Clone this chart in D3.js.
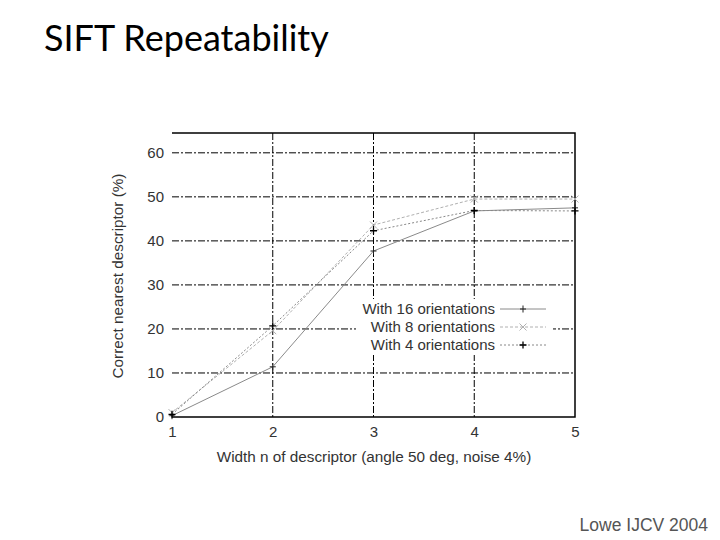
<!DOCTYPE html>
<html>
<head>
<meta charset="utf-8">
<script src="https://cdn.jsdelivr.net/npm/d3@7"></script>
<style>
  body { margin: 0; background: #fff; }
  svg { display: block; }
  .lbl { font-family: 'Liberation Sans', Arial, sans-serif; fill: #333; }
</style>
</head>
<body>
<div class="graph"></div>
<script>
const width = 720;
const height = 540;
const margin = {top: 133, right: 145, bottom: 123, left: 172};
const innerWidth = width - margin.left - margin.right;
const innerHeight = height - margin.top - margin.bottom;

const widths = [1, 2, 3, 4, 5];
const xTicks = [1, 2, 3, 4, 5];
const yTicks = [0, 10, 20, 30, 40, 50, 60];
const seriesNames = ['With 16 orientations', 'With 8 orientations', 'With 4 orientations'];
const with16 = [0.3, 11.4, 37.7, 46.8, 47.5];
const with8 = [1.0, 19.6, 43.6, 49.5, 49.5];
const with4 = [0.6, 20.7, 42.3, 46.9, 46.8];

const styles = [
  {color: '#8a8a8a', dash: null, marker: 'tick'},
  {color: '#b0b0b0', dash: '3,2', marker: 'x'},
  {color: '#888', dash: '2,2', marker: 'plus'}
];
const allSeries = [with16, with8, with4];

const svg = d3.select('.graph').append('svg')
  .attr('width', width)
  .attr('height', height);

svg.append('text')
  .attr('x', 44)
  .attr('y', 51)
  .style('font-family', 'Lato, "Open Sans", sans-serif')
  .style('font-size', '36px')
  .style('fill', '#000')
  .text('SIFT Repeatability');

svg.append('text')
  .attr('class', 'lbl')
  .attr('x', 708)
  .attr('y', 531)
  .attr('text-anchor', 'end')
  .style('font-size', '17.5px')
  .style('fill', '#555')
  .text('Lowe IJCV 2004');

const chart = svg.append('g')
  .attr('transform', `translate(${margin.left}, ${margin.top})`);

const xScale = d3.scaleLinear().domain([1, 5]).range([0, innerWidth]);
const yScale = d3.scaleLinear().domain([0, 64.5]).range([innerHeight, 0]);

// grid
chart.append('g').selectAll('line')
  .data(yTicks.filter(d => d > 0))
  .join('line')
  .attr('x1', 0).attr('x2', innerWidth)
  .attr('y1', d => yScale(d)).attr('y2', d => yScale(d))
  .attr('stroke', '#000').attr('stroke-width', 1)
  .attr('stroke-dasharray', '7,2,2,2');

chart.append('g').selectAll('line')
  .data(xTicks.filter(d => d > 1 && d < 5))
  .join('line')
  .attr('x1', d => xScale(d)).attr('x2', d => xScale(d))
  .attr('y1', 0).attr('y2', innerHeight)
  .attr('stroke', '#000').attr('stroke-width', 1)
  .attr('stroke-dasharray', '7,2,2,2');

// frame (top, right, bottom)
chart.append('path')
  .attr('d', `M0,0H${innerWidth}V${innerHeight}H0`)
  .attr('fill', 'none')
  .attr('stroke', '#000')
  .attr('stroke-width', 1.5);

const xAxis = d3.axisBottom(xScale).tickValues(xTicks).tickFormat(d3.format('d')).tickSize(0).tickPadding(9);
chart.append('g')
  .attr('transform', `translate(0, ${innerHeight})`)
  .call(xAxis)
  .call(g => g.select('.domain').remove())
  .selectAll('text')
  .attr('class', 'lbl')
  .style('font-size', '15px');

const yAxis = d3.axisLeft(yScale).tickValues(yTicks).tickSize(0).tickPadding(8);
chart.append('g')
  .call(yAxis)
  .call(g => g.select('.domain').remove())
  .selectAll('text')
  .attr('class', 'lbl')
  .style('font-size', '15px');

svg.append('text')
  .attr('class', 'lbl')
  .attr('x', 374)
  .attr('y', 462)
  .attr('text-anchor', 'middle')
  .style('font-size', '15.3px')
  .text('Width n of descriptor (angle 50 deg, noise 4%)');

svg.append('text')
  .attr('class', 'lbl')
  .attr('transform', 'translate(123, 276) rotate(-90)')
  .attr('text-anchor', 'middle')
  .style('font-size', '15.3px')
  .text('Correct nearest descriptor (%)');

const drawMarker = (g, type, color, x, y) => {
  const s = 3.5;
  if (type === 'x') {
    g.append('path').attr('d', `M${x - s},${y - s}L${x + s},${y + s}M${x - s},${y + s}L${x + s},${y - s}`)
      .attr('stroke', color).attr('stroke-width', 1);
  } else if (type === 'plus') {
    g.append('path').attr('d', `M${x - s},${y}H${x + s}M${x},${y - s}V${y + s}`)
      .attr('stroke', '#000').attr('stroke-width', 1.3);
  } else {
    g.append('path').attr('d', `M${x - 3},${y}H${x + 3}M${x},${y - s}V${y + s}`)
      .attr('stroke', '#222').attr('stroke-width', 1);
  }
};

const line = d3.line()
  .x((d, i) => xScale(widths[i]))
  .y(d => yScale(d));

allSeries.forEach((values, k) => {
  const st = styles[k];
  chart.append('path')
    .datum(values)
    .attr('d', line)
    .attr('fill', 'none')
    .attr('stroke', st.color)
    .attr('stroke-width', 1)
    .attr('stroke-dasharray', st.dash);
  const mg = chart.append('g');
  values.forEach((v, i) => drawMarker(mg, st.marker, st.color, xScale(widths[i]), yScale(v)));
});

// legend
const legend = svg.append('g');
legend.append('rect')
  .attr('x', 356).attr('y', 299)
  .attr('width', 197).attr('height', 56)
  .attr('fill', '#fff');

seriesNames.forEach((name, k) => {
  const st = styles[k];
  const y = 309 + k * 18;
  legend.append('text')
    .attr('class', 'lbl')
    .attr('x', 495).attr('y', y + 5)
    .attr('text-anchor', 'end')
    .style('font-size', '15px')
    .text(name);
  legend.append('line')
    .attr('x1', 500).attr('x2', 546)
    .attr('y1', y).attr('y2', y)
    .attr('stroke', st.color).attr('stroke-width', 1)
    .attr('stroke-dasharray', st.dash);
  drawMarker(legend, st.marker, st.color, 523, y);
});
</script>
</body>
</html>
